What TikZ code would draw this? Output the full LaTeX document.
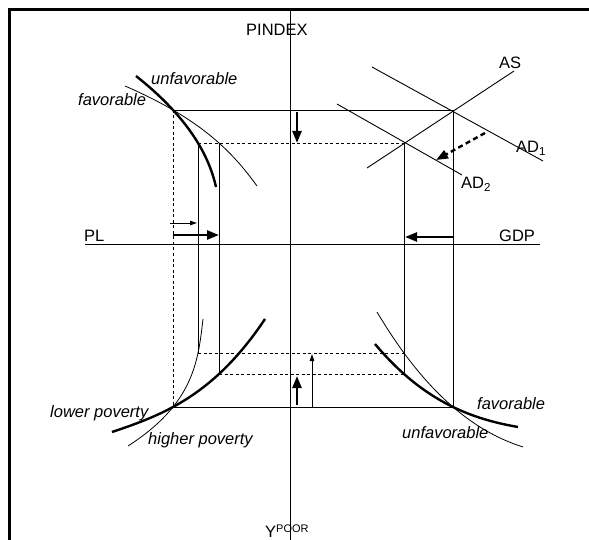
\documentclass[tikz,border=0pt]{standalone}
\usepackage{fontspec}
\setmainfont{Liberation Sans}
\usetikzlibrary{arrows.meta}
% cubic Lagrange interpolation: #1 = variable, #2-#5 = nodes, #6-#9 = values
\newcommand\lagrpoly[9]{(#6)*(((#1)-(#3))/((#2)-(#3)))*(((#1)-(#4))/((#2)-(#4)))*(((#1)-(#5))/((#2)-(#5)))%
 + (#7)*(((#1)-(#2))/((#3)-(#2)))*(((#1)-(#4))/((#3)-(#4)))*(((#1)-(#5))/((#3)-(#5)))%
 + (#8)*(((#1)-(#2))/((#4)-(#2)))*(((#1)-(#3))/((#4)-(#3)))*(((#1)-(#5))/((#4)-(#5)))%
 + (#9)*(((#1)-(#2))/((#5)-(#2)))*(((#1)-(#3))/((#5)-(#3)))*(((#1)-(#4))/((#5)-(#4)))}
\begin{document}
\begin{tikzpicture}[x=1pt,y=-1pt,
 thin line/.style={line width=0.9pt},
 thick curve/.style={line width=2.4pt},
 thin curve/.style={line width=0.8pt},
 dashline/.style={line width=0.9pt, dash pattern=on 3pt off 2.5pt},
 bigarrow/.style={line width=2.4pt, -{Triangle[length=12pt,width=9pt]}},
 smallarrow/.style={line width=0.9pt, -{Triangle[length=7pt,width=4.5pt]}},
 lbl/.style={font=\fontsize{16.5}{18}\selectfont, inner sep=0pt, anchor=base west},
 ilbl/.style={lbl, font=\fontsize{16.5}{18}\selectfont\itshape},
]
\useasboundingbox (0,0) rectangle (589,540);
% frame (top and left edges)
\draw[line width=3pt] (9.5,540) -- (9.5,9.5) -- (589,9.5);

% axes
\coordinate (ytop) at (290,10);
\coordinate (ybot) at (290,540);
\coordinate (xl) at (85,244);
\coordinate (xr) at (540,244);
\draw[thin line] (ytop) -- (ybot);
\draw[thin line] (xl) -- (xr);

% key points
\coordinate (E1) at (453,110);
\coordinate (E2) at (404,143);
\coordinate (TL1) at (173,110);
\coordinate (TLa) at (198,143);
\coordinate (TLb) at (219,143);
\coordinate (BL1) at (173,407);
\coordinate (BLa) at (198,353);
\coordinate (BLb) at (219,374);
\coordinate (BR1) at (453,407);
\coordinate (BRa) at (404,353);
\coordinate (BRb) at (404,374);

% AS / AD lines
\coordinate (ASa) at (367,168);
\coordinate (ASb) at (514,71);
\coordinate (AD1a) at (372,67);
\coordinate (AD1b) at (543,161);
\coordinate (AD2a) at (337,104);
\coordinate (AD2b) at (462,175);
\draw[thin line] (ASa) -- (ASb);
\draw[thin line] (AD1a) -- (AD1b);
\draw[thin line] (AD2a) -- (AD2b);

% projection lines
\draw[thin line] (TL1) -- (E1);
\draw[dashline] (TL1) -- (BL1);
\draw[dashline] (TLa) -- (E2);
\draw[thin line] (TLa) -- (BLa);
\draw[thin line] (TLb) -- (BLb);
\draw[thin line] (E1) -- (BR1);
\draw[thin line] (E2) -- (BRb);
\draw[thin line] (BL1) -- (BR1);
\draw[dashline] (BLa) -- (BRa);
\draw[dashline] (BLb) -- (BRb);

% curves top-left (x as a function of y)
\draw[thick curve] plot[domain=76:187, samples=60]
  ({\lagrpoly{\x}{76}{110}{143}{187}{136}{173}{198}{216}}, \x);
\draw[thin curve] plot[domain=86:186, samples=60]
  ({\lagrpoly{\x}{86}{110}{143}{186}{125}{173}{219}{257}}, \x);
% curves bottom-left
\draw[thin curve] plot[domain=319:446, samples=60]
  ({\lagrpoly{\x}{446}{407}{353}{319}{128}{173}{198}{203}}, \x);
\draw[thick curve] plot[domain=112:265, samples=60]
  (\x, {\lagrpoly{\x}{112}{173}{219}{265}{432}{407}{374}{319}});
% curves bottom-right
\draw[thin curve] plot[domain=377:523, samples=60]
  (\x, {\lagrpoly{\x}{377}{404}{453}{523}{312}{353}{407}{447}});
\draw[thick curve] plot[domain=375:518, samples=60]
  (\x, {\lagrpoly{\x}{375}{404}{453}{518}{344}{374}{407}{427}});

% arrows
\coordinate (dA1) at (297,112); \coordinate (dA2) at (297,143);
\draw[bigarrow] (dA1) -- (dA2);
\coordinate (pA1) at (170,223); \coordinate (pA2) at (197,223);
\draw[smallarrow] (pA1) -- (pA2);
\coordinate (pB1) at (173,235); \coordinate (pB2) at (219,235);
\draw[bigarrow] (pB1) -- (pB2);
\coordinate (gA1) at (454,237); \coordinate (gA2) at (405,237);
\draw[bigarrow] (gA1) -- (gA2);
\coordinate (uA1) at (297,405); \coordinate (uA2) at (297,376);
\draw[bigarrow] (uA1) -- (uA2);
\coordinate (uB1) at (312,407); \coordinate (uB2) at (312,354);
\draw[smallarrow] (uB1) -- (uB2);
\coordinate (sA1) at (485,133); \coordinate (sA2) at (436,160);
\draw[line width=2.4pt, dash pattern=on 5pt off 3.5pt, -{Triangle[length=12pt,width=9pt]}] (sA1) -- (sA2);

% labels
\node[lbl] (pindex) at (246,36) {PINDEX};
\node[lbl] (ypoor) at (265,537) {Y\raisebox{5pt}{\fontsize{11}{12}\selectfont POOR}};
\node[lbl] (pl) at (84,241) {PL};
\node[lbl] (gdp) at (499,241) {GDP};
\node[lbl] (as) at (499,69) {AS};
\node[lbl] (ad1) at (516,153) {AD\textsubscript{1}};
\node[lbl] (ad2) at (461,189) {AD\textsubscript{2}};
\node[ilbl] (unfTL) at (151,85) {unfavorable};
\node[ilbl] (favTL) at (78,106) {favorable};
\node[ilbl] (lowp) at (50,417) {lower poverty};
\node[ilbl] (highp) at (148,444) {higher poverty};
\node[ilbl] (favBR) at (477,409) {favorable};
\node[ilbl] (unfBR) at (402,438) {unfavorable};
\end{tikzpicture}
\end{document}
